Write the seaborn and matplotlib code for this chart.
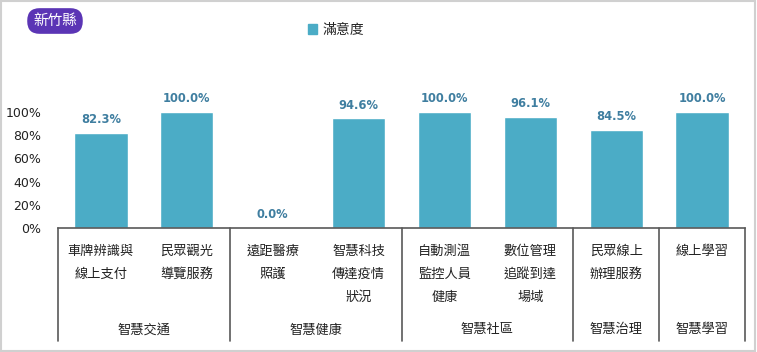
import numpy as np
import pandas as pd
import matplotlib
matplotlib.use('Agg')
import matplotlib.pyplot as plt
from matplotlib.patches import Rectangle, Patch
import seaborn as sns

# datos
items = ["車牌辨識與\n線上支付", "民眾觀光\n導覽服務", "遠距醫療\n照護", "智慧科技\n傳達疫情\n狀況",
         "自動測溫\n監控人員\n健康", "數位管理\n追蹤到達\n場域", "民眾線上\n辦理服務", "線上學習"]
valores = [82.3, 100.0, 0.0, 94.6, 100.0, 96.1, 84.5, 100.0]
grupos = ["智慧交通", "智慧健康", "智慧社區", "智慧治理", "智慧學習"]
grupo_n = [2, 2, 2, 1, 1]
titulo = "新竹縣"
serie = "滿意度"
yticks = [0, 20, 40, 60, 80, 100]

BAR = '#4bacc6'
LAB = '#3f7ea0'
LINEA = '#595959'

sns.set_theme(style="white")
plt.rcParams['font.family'] = ['Noto Sans CJK TC', 'DejaVu Sans']

df = pd.DataFrame({"item": items, "valor": valores})

fig = plt.figure(figsize=(7.57, 3.52), dpi=100)
ax = fig.add_axes([58 / 757, 124 / 352, 687 / 757, 116 / 352])

sns.barplot(data=df, x="item", y="valor", color=BAR, saturation=1, width=0.62, ax=ax)
ax.set_xlim(-0.5, len(items) - 0.5)
ax.set_ylim(0, 100)
ax.set_yticks(yticks)
ax.set_yticklabels([f"{t}%" for t in yticks], fontsize=9, color='#222222', family='DejaVu Sans')
ax.tick_params(axis='y', length=0, pad=12)
ax.set_xticks([])
ax.set_xlabel('')
ax.set_ylabel('')
for s in ['left', 'right', 'top']:
    ax.spines[s].set_visible(False)
ax.spines['bottom'].set_color(LINEA)
ax.spines['bottom'].set_linewidth(1.2)

# etiquetas de valor
for i, v in enumerate(valores):
    ax.annotate(f"{v:.1f}%", (i, v), xytext=(0, 9.5), textcoords='offset points',
                ha='center', va='center', fontsize=8.3, fontweight='bold', color=LAB,
                family='DejaVu Sans')

# etiquetas de categoria
trans = ax.get_xaxis_transform()
for i, it in enumerate(items):
    for k, linea in enumerate(it.split("\n")):
        ax.text(i, -(251 - 228 + k * 23) / 116, linea, transform=trans,
                ha='center', va='center', fontsize=9.5, color='#222222')

# separadores y grupos
bordes = np.concatenate([[0], np.cumsum(grupo_n)]) - 0.5
for b in bordes:
    ax.plot([b, b], [0, -(341 - 228) / 116], transform=trans, color=LINEA,
            lw=1.2, clip_on=False)
for g, a, b in zip(grupos, bordes[:-1], bordes[1:]):
    ax.text((a + b) / 2, -(330 - 228) / 116, g, transform=trans,
            ha='center', va='center', fontsize=9.5, color='#222222')

# leyenda
fig.legend(handles=[Patch(color=BAR, label=serie)], loc='center',
           bbox_to_anchor=(336 / 757, 1 - 30 / 352), frameon=False,
           handlelength=0.7, handleheight=0.7, handletextpad=0.4, fontsize=10)

# titulo
fig.text(55 / 757, 1 - 21 / 352, titulo, ha='center', va='center', fontsize=10.5,
         color='white', bbox=dict(boxstyle='round,pad=0.4,rounding_size=0.85',
                                  facecolor='#5b35b5', edgecolor='none'))

fig.patches.append(Rectangle((0.001, 0.002), 0.997, 0.995, transform=fig.transFigure,
                             fill=False, edgecolor='#d0d0d0', lw=1.5))

fig.savefig('out.png', dpi=100)
